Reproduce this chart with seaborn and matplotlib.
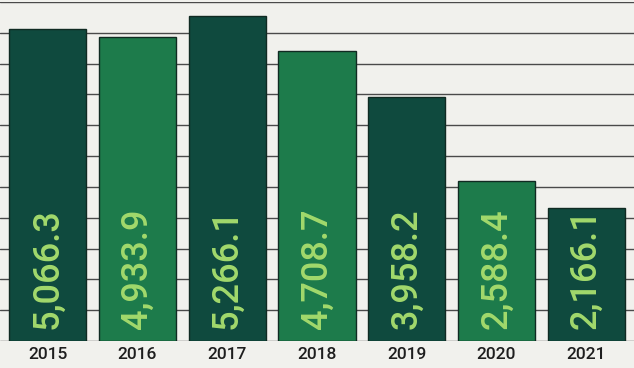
import matplotlib
matplotlib.use("Agg")
import matplotlib.pyplot as plt
import seaborn as sns
import pandas as pd

years = ["2015", "2016", "2017", "2018", "2019", "2020", "2021"]
values = [5066.3, 4933.9, 5266.1, 4708.7, 3958.2, 2588.4, 2166.1]
labels = ["5,066.3", "4,933.9", "5,266.1", "4,708.7", "3,958.2", "2,588.4", "2,166.1"]

dark = "#0f4a3e"
light = "#1d7b4b"
palette = [dark, light, dark, light, dark, light, dark]

sns.set_theme(style="white")
plt.rcParams['font.family'] = ['Roboto', 'DejaVu Sans']

df = pd.DataFrame({"year": years, "value": values})

fig = plt.figure(figsize=(6.34, 3.68), dpi=100)
fig.patch.set_facecolor("#f1f1ed")
ax = fig.add_axes([0.0, 0.073, 1.0, 0.922])
ax.set_facecolor("#f1f1ed")

sns.barplot(data=df, x="year", y="value", hue="year", palette=palette,
            legend=False, width=0.86, ax=ax, edgecolor="#102a22", linewidth=1.0,
            saturation=1, zorder=3)

ax.set_ylim(0, 5500)
ax.set_xlim(-0.53, 6.53)
ax.set_yticks(range(0, 5501, 500))
ax.yaxis.grid(True, color="#4a4a4a", linewidth=1.0, zorder=0)
ax.set_axisbelow(True)
ax.set_yticklabels([])
ax.tick_params(axis="y", length=0)
ax.tick_params(axis="x", length=0, labelsize=12.5, colors="#1e1e1e", pad=4)
for t in ax.get_xticklabels():
    t.set_fontweight("medium")
for s in ax.spines.values():
    s.set_visible(False)
ax.set_xlabel("")
ax.set_ylabel("")

for i, lab in enumerate(labels):
    ax.annotate(lab, xy=(i, 0), xytext=(0, 9), textcoords="offset points",
                rotation=90, ha="center", va="bottom", fontsize=26,
                fontweight="medium", color="#a2d96c", zorder=5)

fig.savefig("out.png", dpi=100, facecolor=fig.get_facecolor())
